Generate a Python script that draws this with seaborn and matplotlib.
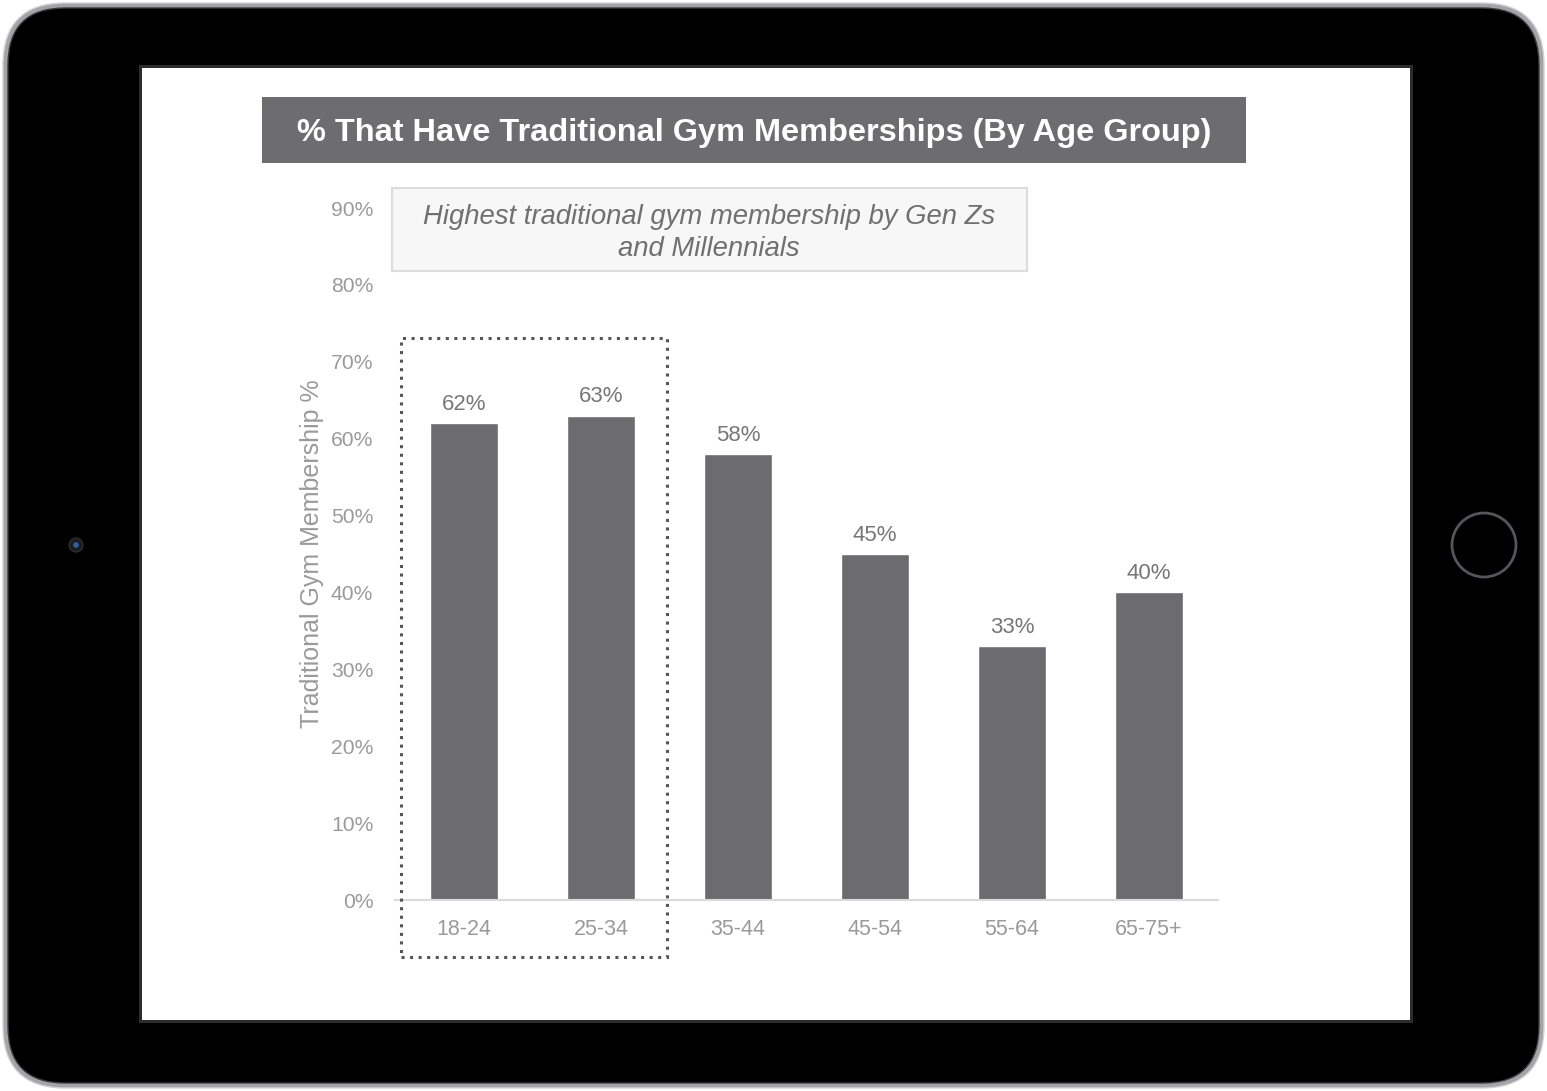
import matplotlib
matplotlib.use("Agg")
import matplotlib.pyplot as plt
import seaborn as sns
import pandas as pd
from matplotlib.patches import FancyBboxPatch, Rectangle, Circle

# Data
age_groups = ["18-24", "25-34", "35-44", "45-54", "55-64", "65-75+"]
membership_pct = [62, 63, 58, 45, 33, 40]
y_ticks = [0, 10, 20, 30, 40, 50, 60, 70, 80, 90]

title_text = "% That Have Traditional Gym Memberships (By Age Group)"
note_text = "Highest traditional gym membership by Gen Zs\nand Millennials"
y_label = "Traditional Gym Membership %"

sns.set_theme(style="white")
plt.rcParams["font.family"] = ["Liberation Sans", "DejaVu Sans"]

W, H = 1547, 1091
fig = plt.figure(figsize=(W / 100, H / 100), dpi=100, facecolor="white")

# Background layer in pixel units: tablet body, screen, header and note box
bg = fig.add_axes([0, 0, 1, 1], zorder=0)
bg.set_xlim(0, W)
bg.set_ylim(H, 0)
bg.axis("off")

bg.add_patch(FancyBboxPatch((3, 3), W - 6, H - 6,
                            boxstyle="round,pad=0,rounding_size=62",
                            facecolor="#a4a4a8", edgecolor="#d2d2d6", lw=1.0))
bg.add_patch(FancyBboxPatch((8, 8), W - 16, H - 16,
                            boxstyle="round,pad=0,rounding_size=57",
                            facecolor="#000000", edgecolor="#3a3a3c", lw=1.0))
# screen
bg.add_patch(Rectangle((139, 65), 1274, 958, facecolor="#2c2c2e", edgecolor="none"))
bg.add_patch(Rectangle((142, 68), 1268, 952, facecolor="white", edgecolor="none"))
# camera
bg.add_patch(Circle((76, 545), 7, facecolor="#1c1c1e", edgecolor="#333336", lw=0.8))
bg.add_patch(Circle((76, 545), 2.8, facecolor="#2f5fa8", edgecolor="none"))
# home button
bg.add_patch(Circle((1484, 545), 32, facecolor="none", edgecolor="#55555a", lw=2.0))

# header bar
bg.add_patch(Rectangle((262, 97), 984, 66, facecolor="#6d6d6f", edgecolor="none"))
bg.text(754, 133, title_text, ha="center", va="center", color="white",
        fontsize=23.4, fontweight="bold")

# note box
bg.add_patch(Rectangle((392, 188), 635, 83, facecolor="#f7f7f7",
                       edgecolor="#dcdcdc", lw=1.5))
bg.text(709, 233, note_text, ha="center", va="center", color="#707070",
        fontsize=19.8, fontstyle="italic", linespacing=1.32)

# Chart
ax = fig.add_axes([395.5 / W, (H - 900) / H, 822 / W, 692 / H], zorder=2)
ax.patch.set_alpha(0)
df = pd.DataFrame({"age": age_groups, "pct": membership_pct})
sns.barplot(data=df, x="age", y="pct", color="#6c6c6e", width=0.49,
            saturation=1, ax=ax)
ax.set_xlim(-0.5, len(age_groups) - 0.5)
ax.set_ylim(0, 90)
ax.set_yticks(y_ticks)
ax.set_yticklabels([f"{t}%" for t in y_ticks])
ax.tick_params(axis="y", length=0, pad=16, labelsize=15.2, labelcolor="#9a9a9a")
ax.tick_params(axis="x", length=0, pad=14, labelsize=15.5, labelcolor="#9a9a9a")
ax.set_xlabel("")
ax.set_ylabel(y_label, fontsize=18, color="#9a9a9a", labelpad=5)
for s in ["top", "right", "left"]:
    ax.spines[s].set_visible(False)
ax.spines["bottom"].set_color("#dadada")
ax.spines["bottom"].set_linewidth(1.5)
ax.grid(False)

ax.bar_label(ax.containers[0], labels=[f"{v}%" for v in membership_pct],
             padding=6, fontsize=16, color="#777777")

# dotted highlight around the two youngest groups
ax.add_patch(Rectangle((-0.46, -7.4), 1.94, 80.5, fill=False,
                       edgecolor="#555555", lw=2.2, linestyle=(0, (1, 1.8)),
                       clip_on=False, zorder=5))

fig.savefig("out.png", dpi=100, facecolor="white")
